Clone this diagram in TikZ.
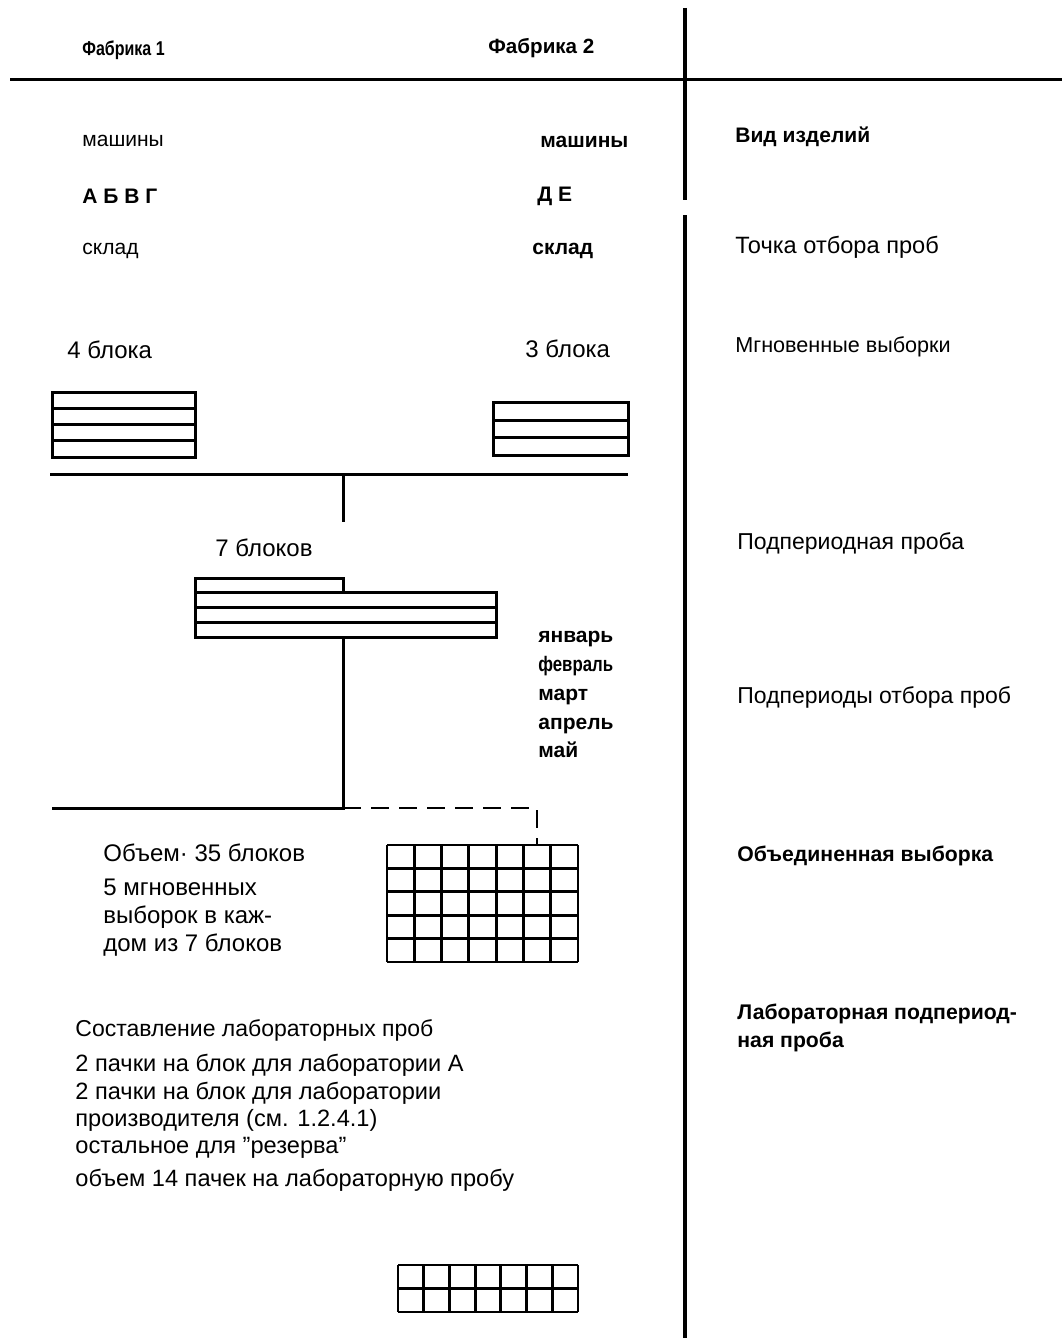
\documentclass[tikz,border=0pt]{standalone}
\usepackage{fontspec}
\setmainfont{Liberation Sans}
\begin{document}
\begin{tikzpicture}[x=0.5pt,y=-0.5pt,
  txt/.style={anchor=west,inner sep=0pt,font=\fontsize{10.5}{12.5}\selectfont},
  btxt/.style={txt,font=\fontsize{10.5}{12.5}\selectfont\bfseries},
  mtxt/.style={txt,font=\fontsize{12}{14}\selectfont},
  rtxt/.style={txt,font=\fontsize{11.5}{14}\selectfont},
  ltxt/.style={txt,font=\fontsize{11.8}{14}\selectfont},
  ln/.style={line width=1.5pt},
  gridln/.style={line width=1.4pt},
  dashedln/.style={line width=1.4pt,dash pattern=on 9pt off 5pt}]
\useasboundingbox[fill=white] (0,0) rectangle (1062,1338);
% frame lines
\coordinate (vtop) at (685,8);
\coordinate (vgap1) at (685,200);
\coordinate (vgap2) at (685,215);
\coordinate (vbot) at (685,1338);
\coordinate (hl) at (10,80);
\coordinate (hr) at (1062,80);
\draw[line width=2pt] (vtop) -- (vgap1);
\draw[line width=2pt] (vgap2) -- (vbot);
\draw[ln] (hl) -- (hr);
% headers
\node[btxt,font=\fontsize{10}{12}\selectfont\bfseries] (f1) at (82,50) {\scalebox{0.8}[1]{Фабрика 1}};
\node[btxt,font=\fontsize{10.3}{12}\selectfont\bfseries] (f2) at (488,48) {Фабрика 2};
\node[txt] (m1) at (82,141) {машины};
\node[btxt] (m2) at (540,142) {машины};
\node[btxt] (l1) at (82,196) {А Б В Г};
\node[btxt] (l2) at (537,196) {Д Е};
\node[txt] (s1) at (82,251) {склад};
\node[btxt] (s2) at (532,251) {склад};
\node[mtxt] (b1) at (67,350) {4 блока};
\node[mtxt] (b2) at (525,349) {3 блока};
% right column
\node[btxt] (r1) at (735,137) {Вид изделий};
\node[rtxt,font=\fontsize{11.8}{14}\selectfont] (r2) at (735,247) {Точка отбора проб};
\node[txt,font=\fontsize{10.8}{13}\selectfont] (r3) at (735,347) {Мгновенные выборки};
\node[rtxt] (r4) at (737,543) {Подпериодная проба};
\node[rtxt] (r5) at (737,697) {Подпериоды отбора проб};
\node[btxt,font=\fontsize{10.6}{13}\selectfont\bfseries] (r6) at (737,856) {Объединенная выборка};
\node[btxt,align=left,font=\fontsize{10.6}{14}\selectfont\bfseries] (r7) at (737,1028) {Лабораторная подпериод-\\ная проба};
% 4-block stack
\draw[ln] (52,392) rectangle (195,457);
\foreach \y in {408,424,440} \draw[ln] (52,\y) -- (195,\y);
% 3-block stack
\draw[ln] (493,402) rectangle (628,455);
\foreach \y in {420,437} \draw[ln] (493,\y) -- (628,\y);
% collector
\coordinate (cl) at (50,474);
\coordinate (cr) at (628,474);
\coordinate (cm) at (343,474);
\coordinate (cd) at (343,522);
\draw[ln] (cl) -- (cr);
\draw[ln] (cm) -- (cd);
% 7 blocks
\node[mtxt] (b7) at (215,548) {7 блоков};
\draw[ln] (195,592) -- (195,578) -- (343,578) -- (343,592);
\draw[ln] (195,592) rectangle (496,637);
\foreach \y in {607,622} \draw[ln] (195,\y) -- (496,\y);
\coordinate (s7) at (343,637);
\coordinate (s7d) at (343,808);
\coordinate (hl2) at (52,808);
\coordinate (dc) at (537,808);
\coordinate (dg) at (537,845);
\draw[ln] (s7) -- (s7d) -- (hl2);
\draw[dashedln] (s7d) -- (dc) -- (dg);
% months
\node[txt,align=left,font=\fontsize{10.5}{14.4}\selectfont\bfseries,anchor=north west] (mon) at (538,631)
  {январь\\\scalebox{0.8}[1]{февраль}\\март\\апрель\\май};
% 35 grid
\foreach \i in {0,...,7} \draw[gridln] ({387+\i*191/7},845) -- ({387+\i*191/7},962);
\foreach \j in {0,...,5} \draw[gridln] (387,{845+\j*23.4}) -- (578,{845+\j*23.4});
% volume text
\node[mtxt] (v1) at (103,853) {Объем· 35 блоков};
\node[mtxt,align=left,anchor=north west,font=\fontsize{12}{14}\selectfont] (v2) at (103,879) {5 мгновенных\\выборок в каж-\\дом из 7 блоков};
% lab text
\node[ltxt,font=\fontsize{11.5}{14}\selectfont] (t1) at (75,1030) {Составление лабораторных проб};
\node[ltxt] (t2) at (75,1065) {2 пачки на блок для лаборатории А};
\node[ltxt] (t3) at (75,1093) {2 пачки на блок для лаборатории};
\node[ltxt] (t4) at (75,1120) {производителя (см. 1.2.4.1)};
\node[ltxt] (t5) at (75,1148) {остальное для ''резерва''};
\node[ltxt] (t6) at (75,1180) {объем 14 пачек на лабораторную пробу};
% bottom grid
\foreach \i in {0,...,7} \draw[gridln] ({398+\i*180/7},1265) -- ({398+\i*180/7},1312);
\foreach \j in {0,1,2} \draw[gridln] (398,{1265+\j*23.5}) -- (578,{1265+\j*23.5});
\end{tikzpicture}
\end{document}
